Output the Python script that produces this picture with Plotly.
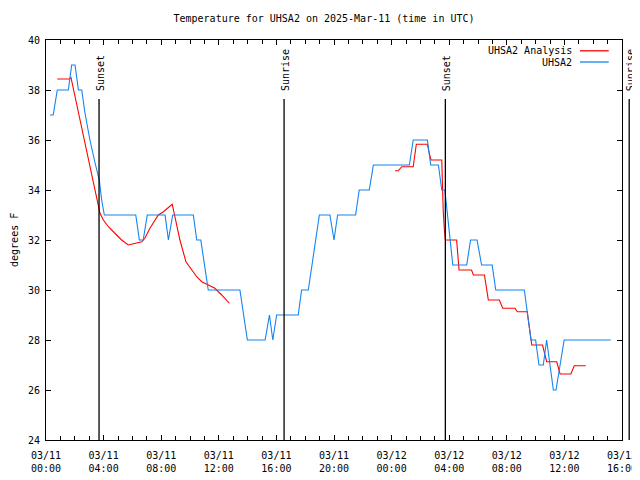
import plotly.graph_objects as go
import pandas as pd

# ---- data ----
obs_times = [
    "2025-03-11 00:17", "2025-03-11 00:30", "2025-03-11 00:47", "2025-03-11 01:33",
    "2025-03-11 01:47", "2025-03-11 02:01", "2025-03-11 02:15", "2025-03-11 02:29",
    "2025-03-11 02:42", "2025-03-11 03:03", "2025-03-11 03:24", "2025-03-11 03:42",
    "2025-03-11 03:52", "2025-03-11 04:03", "2025-03-11 06:14", "2025-03-11 06:29",
    "2025-03-11 06:45", "2025-03-11 07:02", "2025-03-11 08:16", "2025-03-11 08:30",
    "2025-03-11 08:48", "2025-03-11 10:14", "2025-03-11 10:28", "2025-03-11 10:45",
    "2025-03-11 11:16", "2025-03-11 13:28", "2025-03-11 13:59", "2025-03-11 15:13",
    "2025-03-11 15:31", "2025-03-11 15:45", "2025-03-11 16:01", "2025-03-11 17:31",
    "2025-03-11 17:45", "2025-03-11 18:13", "2025-03-11 18:59", "2025-03-11 19:43",
    "2025-03-11 20:00", "2025-03-11 20:15", "2025-03-11 21:30", "2025-03-11 21:45",
    "2025-03-11 22:27", "2025-03-11 22:44", "2025-03-12 01:14", "2025-03-12 01:30",
    "2025-03-12 02:29", "2025-03-12 02:43", "2025-03-12 03:15", "2025-03-12 03:29",
    "2025-03-12 03:42", "2025-03-12 04:15", "2025-03-12 05:13", "2025-03-12 05:29",
    "2025-03-12 05:56", "2025-03-12 06:15", "2025-03-12 06:59", "2025-03-12 07:14",
    "2025-03-12 09:13", "2025-03-12 09:41", "2025-03-12 10:00", "2025-03-12 10:14",
    "2025-03-12 10:32", "2025-03-12 10:46", "2025-03-12 11:14", "2025-03-12 11:25",
    "2025-03-12 11:59", "2025-03-12 15:13",
]
obs_temps = [
    37, 37, 38, 38,
    39, 39, 38, 38,
    37.1, 36.0, 35.1, 34.4,
    33.6, 33, 33, 32,
    32, 33, 33, 32,
    33, 33, 32, 32,
    30, 30, 28, 28,
    29, 28, 29, 29,
    30, 30, 33, 33,
    32, 33, 33, 34,
    34, 35, 35, 36,
    36, 35, 35, 34,
    34, 31, 31, 32,
    32, 31, 31, 30,
    30, 28, 28, 27,
    27, 28, 26, 26,
    28, 28,
]

ana_times = [
    "2025-03-11 00:47", "2025-03-11 01:37", "2025-03-11 01:44", "2025-03-11 03:45",
    "2025-03-11 03:59", "2025-03-11 04:20", "2025-03-11 04:47", "2025-03-11 05:15",
    "2025-03-11 05:43", "2025-03-11 05:57", "2025-03-11 06:39", "2025-03-11 06:52",
    "2025-03-11 07:13", "2025-03-11 07:48", "2025-03-11 08:09", "2025-03-11 08:46",
    "2025-03-11 09:18", "2025-03-11 09:43", "2025-03-11 10:00", "2025-03-11 10:28",
    "2025-03-11 10:49", "2025-03-11 11:16", "2025-03-11 11:44", "2025-03-11 12:12",
    "2025-03-11 12:44", "2025-03-11 18:00",
    "2025-03-12 00:14", "2025-03-12 00:28", "2025-03-12 00:42", "2025-03-12 01:30",
    "2025-03-12 01:43", "2025-03-12 02:29", "2025-03-12 02:37", "2025-03-12 02:44",
    "2025-03-12 03:29", "2025-03-12 03:31", "2025-03-12 03:35", "2025-03-12 03:40",
    "2025-03-12 03:44", "2025-03-12 04:31", "2025-03-12 04:41", "2025-03-12 05:33",
    "2025-03-12 05:41", "2025-03-12 06:27", "2025-03-12 06:43", "2025-03-12 07:29",
    "2025-03-12 07:43", "2025-03-12 08:34", "2025-03-12 08:44", "2025-03-12 09:25",
    "2025-03-12 09:44", "2025-03-12 10:29", "2025-03-12 10:46", "2025-03-12 11:28",
    "2025-03-12 11:42", "2025-03-12 12:27", "2025-03-12 12:41", "2025-03-12 13:29",
]
ana_temps = [
    38.44, 38.44, 38.5, 33.07,
    32.8, 32.53, 32.27, 32.0,
    31.8, 31.83, 31.93, 32.07,
    32.47, 33.0, 33.13, 33.43,
    32.0, 31.13, 30.9, 30.53,
    30.33, 30.2, 30.07, 29.8,
    29.47, None,
    34.77, 34.77, 34.93, 34.93,
    35.83, 35.83, 35.47, 35.2,
    35.2, 34.0, 33.2, 32.4,
    32.0, 32.0, 30.8, 30.8,
    30.6, 30.6, 29.6, 29.6,
    29.27, 29.27, 29.13, 29.13,
    27.8, 27.8, 27.13, 27.13,
    26.64, 26.64, 26.97, 26.97,
]

event_labels = ["Sunset", "Sunrise", "Sunset", "Sunrise"]
event_times = ["2025-03-11 03:41", "2025-03-11 16:32", "2025-03-12 03:44", "2025-03-12 16:30"]

x_start = "2025-03-11 00:00"
x_end = "2025-03-12 16:00"
y_min, y_max = 24, 40

series_names = ["UHSA2 Analysis", "UHSA2"]
series_colors = ["#ff0000", "#1484f0"]

FONT = "DejaVu Sans Mono"

fig = go.Figure()
fig.add_trace(go.Scatter(x=pd.to_datetime(ana_times), y=ana_temps, mode="lines",
                         line=dict(color=series_colors[0], width=1.1),
                         connectgaps=False, showlegend=False, name=series_names[0]))
fig.add_trace(go.Scatter(x=pd.to_datetime(obs_times), y=obs_temps, mode="lines",
                         line=dict(color=series_colors[1], width=1.1),
                         showlegend=False, name=series_names[1]))

t0 = pd.Timestamp(x_start)
t1 = pd.Timestamp(x_end)
span = (t1 - t0).total_seconds()

shapes = []
annotations = []
for lab, t in zip(event_labels, event_times):
    px = (pd.Timestamp(t) - t0).total_seconds() / span
    shapes.append(dict(type="line", xref="paper", yref="y", x0=px, x1=px,
                       y0=y_min, y1=37.64, line=dict(color="black", width=1.3)))
    annotations.append(dict(xref="paper", yref="y", x=px, y=37.86, text=lab,
                            textangle=-90, showarrow=False, xanchor="center",
                            yanchor="bottom", xshift=1.5,
                            font=dict(family=FONT, size=10, color="black")))

# legend drawn gnuplot-style: right-aligned text with line sample on the right
leg_y = [0.973, 0.945]
for name, col, ly in zip(series_names, series_colors, leg_y):
    annotations.append(dict(xref="paper", yref="paper", x=0.916, y=ly, text=name,
                            showarrow=False, xanchor="right", yanchor="middle",
                            font=dict(family=FONT, size=10, color="black")))
    shapes.append(dict(type="line", xref="paper", yref="paper", x0=0.927, x1=0.977,
                       y0=ly, y1=ly, line=dict(color=col, width=1.3)))

# y-axis title
annotations.append(dict(xref="paper", yref="paper", x=-0.0556, y=0.5, text="degrees F",
                        textangle=-90, showarrow=False, xanchor="center", yanchor="middle",
                        font=dict(family=FONT, size=10, color="black")))

# page body has an 8px margin, so the figure is 632x472 drawn at (8, 8)
fig.update_layout(
    width=632, height=472,
    margin=dict(l=38, r=18, t=32, b=40, autoexpand=False),
    paper_bgcolor="white", plot_bgcolor="white",
    title=dict(text="Temperature for UHSA2 on 2025-Mar-11 (time in UTC)",
               x=0.5, xanchor="center", y=1 - 10 / 472, yanchor="middle",
               font=dict(family=FONT, size=10, color="black")),
    shapes=shapes, annotations=annotations,
    showlegend=False,
)
fig.update_xaxes(
    type="date", range=[x_start, x_end], dtick=4 * 3600000, tick0=x_start,
    tickformat="%m/%d<br>%H:%M", ticks="inside", ticklen=5, tickcolor="black",
    showline=True, linecolor="black", linewidth=1, mirror="ticks",
    showgrid=False, zeroline=False, automargin=False, ticklabelstandoff=6,
    minor=dict(dtick=3600000, ticks="inside", ticklen=4, tickcolor="black", showgrid=False),
    tickfont=dict(family=FONT, size=10, color="black"),
)
fig.update_yaxes(
    range=[y_min, y_max], dtick=2, ticks="inside", ticklen=5, tickcolor="black",
    showline=True, linecolor="black", linewidth=1, mirror="ticks",
    showgrid=False, zeroline=False, automargin=False, ticklabelstandoff=3,
    tickfont=dict(family=FONT, size=10, color="black"),
)

fig.write_html("out.html")
